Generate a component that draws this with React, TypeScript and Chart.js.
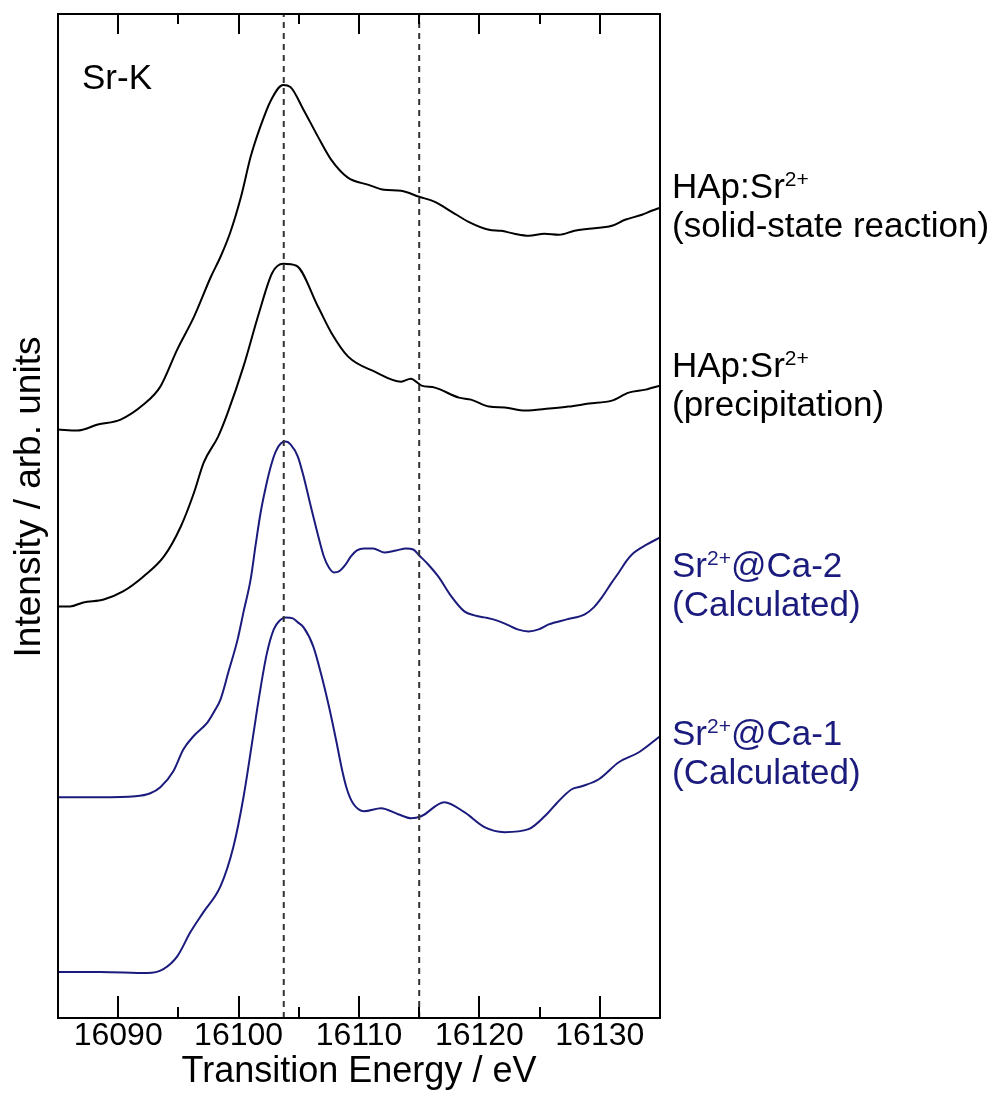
import React, { useEffect, useRef } from 'react';
import { Chart, registerables } from 'chart.js';

Chart.register(...registerables);

// ---- Axis ranges ----
const energyMin = 16085;
const energyMax = 16135;
const intensityMin = 0;
const intensityMax = 10.05;
const energyStep = 5;

// ---- Reference (dashed) energies ----
const refEnergies = [16103.75, 16115.0];

// ---- HAp:Sr2+ (solid-state reaction) ----
const solidEnergy = [16085.0, 16086.6, 16088.3, 16090.2, 16092.1, 16093.5, 16094.9, 16096.3, 16097.7, 16098.5, 16099.3, 16100.2, 16101.0, 16101.8, 16102.7, 16103.7, 16104.3, 16105.4, 16106.6, 16107.7, 16109.1, 16110.8, 16112.1, 16113.5, 16115.0, 16116.3, 16117.7, 16119.1, 16120.8, 16121.8, 16122.9, 16124.1, 16125.4, 16126.6, 16127.9, 16129.1, 16131.0, 16132.1, 16133.5, 16134.3, 16135.0];
const solidIntensity = [5.89, 5.88, 5.94, 5.99, 6.14, 6.32, 6.69, 7.02, 7.42, 7.62, 7.86, 8.22, 8.62, 8.92, 9.19, 9.34, 9.32, 9.09, 8.82, 8.59, 8.41, 8.34, 8.29, 8.28, 8.22, 8.17, 8.07, 7.97, 7.89, 7.88, 7.85, 7.83, 7.85, 7.84, 7.88, 7.90, 7.93, 7.99, 8.04, 8.08, 8.11];

// ---- HAp:Sr2+ (precipitation) ----
const precipEnergy = [16085.0, 16086.0, 16087.1, 16088.8, 16090.4, 16092.1, 16093.8, 16095.2, 16096.3, 16097.1, 16098.3, 16099.1, 16100.4, 16101.7, 16102.8, 16103.7, 16104.8, 16106.6, 16107.7, 16109.1, 16111.3, 16113.5, 16114.3, 16115.2, 16116.3, 16118.3, 16119.3, 16120.8, 16122.1, 16123.8, 16125.8, 16127.4, 16129.1, 16131.0, 16132.4, 16133.8, 16135.0];
const precipIntensity = [4.12, 4.12, 4.16, 4.19, 4.27, 4.42, 4.62, 4.92, 5.26, 5.56, 5.82, 6.06, 6.52, 7.06, 7.46, 7.55, 7.53, 7.12, 6.86, 6.62, 6.47, 6.37, 6.40, 6.33, 6.31, 6.21, 6.19, 6.12, 6.11, 6.08, 6.10, 6.12, 6.15, 6.18, 6.26, 6.29, 6.33];

// ---- Sr2+@Ca-2 (Calculated) ----
const ca2Energy = [16085.0, 16088.5, 16091.42, 16092.67, 16093.5, 16094.58, 16095.42, 16096.25, 16097.42, 16098.08, 16098.5, 16099.17, 16099.92, 16100.42, 16101.0, 16101.42, 16101.83, 16102.25, 16102.67, 16103.08, 16103.5, 16103.92, 16104.33, 16104.92, 16105.42, 16106.0, 16106.58, 16107.08, 16107.5, 16107.92, 16108.33, 16108.83, 16109.33, 16109.83, 16110.42, 16111.17, 16112.08, 16113.08, 16113.92, 16114.5, 16115.0, 16115.75, 16116.58, 16117.67, 16118.75, 16119.58, 16120.42, 16121.42, 16122.25, 16123.17, 16124.08, 16124.92, 16125.75, 16127.25, 16128.75, 16129.5, 16130.17, 16131.0, 16131.58, 16132.25, 16132.67, 16133.92, 16135.0];
const ca2Intensity = [2.21, 2.21, 2.22, 2.25, 2.31, 2.47, 2.69, 2.82, 2.96, 3.09, 3.19, 3.47, 3.79, 4.07, 4.39, 4.74, 5.06, 5.31, 5.52, 5.67, 5.75, 5.77, 5.74, 5.62, 5.41, 5.12, 4.84, 4.62, 4.51, 4.46, 4.47, 4.53, 4.62, 4.68, 4.70, 4.70, 4.66, 4.68, 4.70, 4.69, 4.63, 4.54, 4.42, 4.22, 4.07, 4.03, 4.01, 3.98, 3.94, 3.89, 3.87, 3.89, 3.94, 3.99, 4.04, 4.11, 4.21, 4.36, 4.46, 4.58, 4.64, 4.74, 4.81];

// ---- Sr2+@Ca-1 (Calculated) ----
const ca1Energy = [16085.0, 16088.5, 16092.42, 16093.75, 16094.92, 16096.0, 16097.08, 16098.5, 16099.58, 16100.42, 16101.25, 16101.67, 16102.33, 16102.92, 16103.42, 16103.92, 16104.5, 16104.92, 16105.4, 16106.2, 16106.9, 16107.5, 16108.1, 16108.6, 16109.0, 16109.5, 16110.42, 16111.83, 16113.25, 16114.33, 16115.17, 16117.08, 16118.75, 16120.42, 16122.08, 16124.08, 16125.75, 16126.42, 16127.67, 16128.5, 16129.92, 16131.58, 16133.25, 16135.0];
const ca1Intensity = [0.46, 0.46, 0.45, 0.49, 0.62, 0.86, 1.06, 1.32, 1.72, 2.22, 2.86, 3.19, 3.64, 3.89, 3.98, 4.01, 4.00, 3.96, 3.91, 3.72, 3.42, 3.12, 2.78, 2.48, 2.29, 2.15, 2.07, 2.10, 2.04, 2.00, 2.02, 2.16, 2.06, 1.91, 1.86, 1.89, 2.06, 2.15, 2.29, 2.32, 2.39, 2.56, 2.66, 2.82];

// ---- Texts ----
const xTitle = 'Transition Energy / eV';
const yTitle = 'Intensity / arb. units';
const edgeLabel = 'Sr-K';
const labelMain = ['HAp:Sr', 'HAp:Sr', 'Sr', 'Sr'];
const labelSup = ['2+', '2+', '2+', '2+'];
const labelAfter = ['', '', '@Ca-2', '@Ca-1'];
const labelSecond = ['(solid-state reaction)', '(precipitation)', '(Calculated)', '(Calculated)'];

const BLACK = '#000000';
const NAVY = '#1b1b7d';
const FONT = '"Liberation Sans", Arial, sans-serif';

const labelColors = [BLACK, BLACK, NAVY, NAVY];
const labelBaselines = [198, 377, 577, 745];

const toPoints = (xs: number[], ys: number[]) => xs.map((x, i) => ({ x, y: ys[i] }));

const decorPlugin = {
  id: 'decor',
  afterDraw(chart: any) {
    const { ctx, chartArea } = chart;
    const { left, right, top, bottom } = chartArea;
    const xs = chart.scales.x;
    ctx.save();
    // frame
    ctx.strokeStyle = '#000';
    ctx.lineWidth = 2;
    ctx.strokeRect(left, top, right - left, bottom - top);
    // inward ticks top & bottom
    for (let v = energyMin; v <= energyMax; v += energyStep) {
      if (v === energyMin || v === energyMax) continue;
      const px = Math.round(xs.getPixelForValue(v));
      const major = v % 10 === 0;
      ctx.beginPath();
      ctx.moveTo(px, bottom);
      ctx.lineTo(px, bottom - (major ? 22 : 11));
      ctx.moveTo(px, top);
      ctx.lineTo(px, top + (major ? 20 : 10));
      ctx.stroke();
    }
    // Sr-K
    ctx.fillStyle = '#000';
    ctx.textBaseline = 'alphabetic';
    ctx.textAlign = 'left';
    ctx.font = `35px ${FONT}`;
    ctx.fillText(edgeLabel, left + 24, top + 75);
    // y title
    ctx.save();
    ctx.translate(40, 497);
    ctx.rotate(-Math.PI / 2);
    ctx.textAlign = 'center';
    ctx.font = `37px ${FONT}`;
    ctx.fillText(yTitle, 0, 0);
    ctx.restore();
    // right labels
    const lx = right + 12;
    for (let i = 0; i < labelMain.length; i++) {
      const by = labelBaselines[i];
      ctx.fillStyle = labelColors[i];
      ctx.textAlign = 'left';
      ctx.font = `35px ${FONT}`;
      ctx.fillText(labelMain[i], lx, by);
      let x = lx + ctx.measureText(labelMain[i]).width;
      ctx.font = `21px ${FONT}`;
      ctx.fillText(labelSup[i], x, by - 12);
      x += ctx.measureText(labelSup[i]).width;
      ctx.font = `35px ${FONT}`;
      if (labelAfter[i]) ctx.fillText(labelAfter[i], x, by);
      ctx.fillText(labelSecond[i], lx, by + 39);
    }
    ctx.restore();
  },
};

export default function App() {
  const ref = useRef<HTMLCanvasElement | null>(null);
  useEffect(() => {
    if (!ref.current) return;
    const lineDs = (label: string, xs: number[], ys: number[], color: string) => ({
      label,
      data: toPoints(xs, ys),
      borderColor: color,
      borderWidth: 2,
      pointRadius: 0,
      fill: false,
      cubicInterpolationMode: 'monotone' as const,
    });
    const refDs = refEnergies.map((e, i) => ({
      label: 'ref' + i,
      data: [
        { x: e, y: intensityMin },
        { x: e, y: intensityMax },
      ],
      borderColor: '#333333',
      borderWidth: 2,
      borderDash: [6, 5],
      pointRadius: 0,
      fill: false,
    }));
    const chart = new Chart(ref.current, {
      type: 'line',
      data: {
        datasets: [
          ...refDs,
          lineDs('HAp:Sr2+ (solid-state reaction)', solidEnergy, solidIntensity, BLACK),
          lineDs('HAp:Sr2+ (precipitation)', precipEnergy, precipIntensity, BLACK),
          lineDs('Sr2+@Ca-2 (Calculated)', ca2Energy, ca2Intensity, NAVY),
          lineDs('Sr2+@Ca-1 (Calculated)', ca1Energy, ca1Intensity, NAVY),
        ],
      },
      options: {
        responsive: false,
        animation: false,
        layout: { padding: { left: 58, right: 340, top: 14, bottom: 3 } },
        plugins: { legend: { display: false }, tooltip: { enabled: false } },
        scales: {
          x: {
            type: 'linear',
            min: energyMin,
            max: energyMax,
            grid: { display: false, drawTicks: false },
            border: { display: false },
            ticks: {
              stepSize: energyStep,
              autoSkip: false,
              maxRotation: 0,
              padding: 2,
              color: '#000',
              font: { family: FONT, size: 32, lineHeight: 1 },
              callback: (v: any) => (Number(v) % 10 === 0 ? String(v) : ''),
            },
            title: {
              display: true,
              text: xTitle,
              color: '#000',
              font: { family: FONT, size: 36, lineHeight: 1 },
              padding: { top: 0, bottom: 0 },
            },
          },
          y: {
            type: 'linear',
            min: intensityMin,
            max: intensityMax,
            display: false,
          },
        },
      },
      plugins: [decorPlugin],
    });
    return () => chart.destroy();
  }, []);
  return (
    <div style={{ position: 'absolute', left: 0, top: 0, width: 1000, height: 1093, background: '#fff' }}>
      <canvas ref={ref} width={1000} height={1093} style={{ display: 'block' }} />
    </div>
  );
}
